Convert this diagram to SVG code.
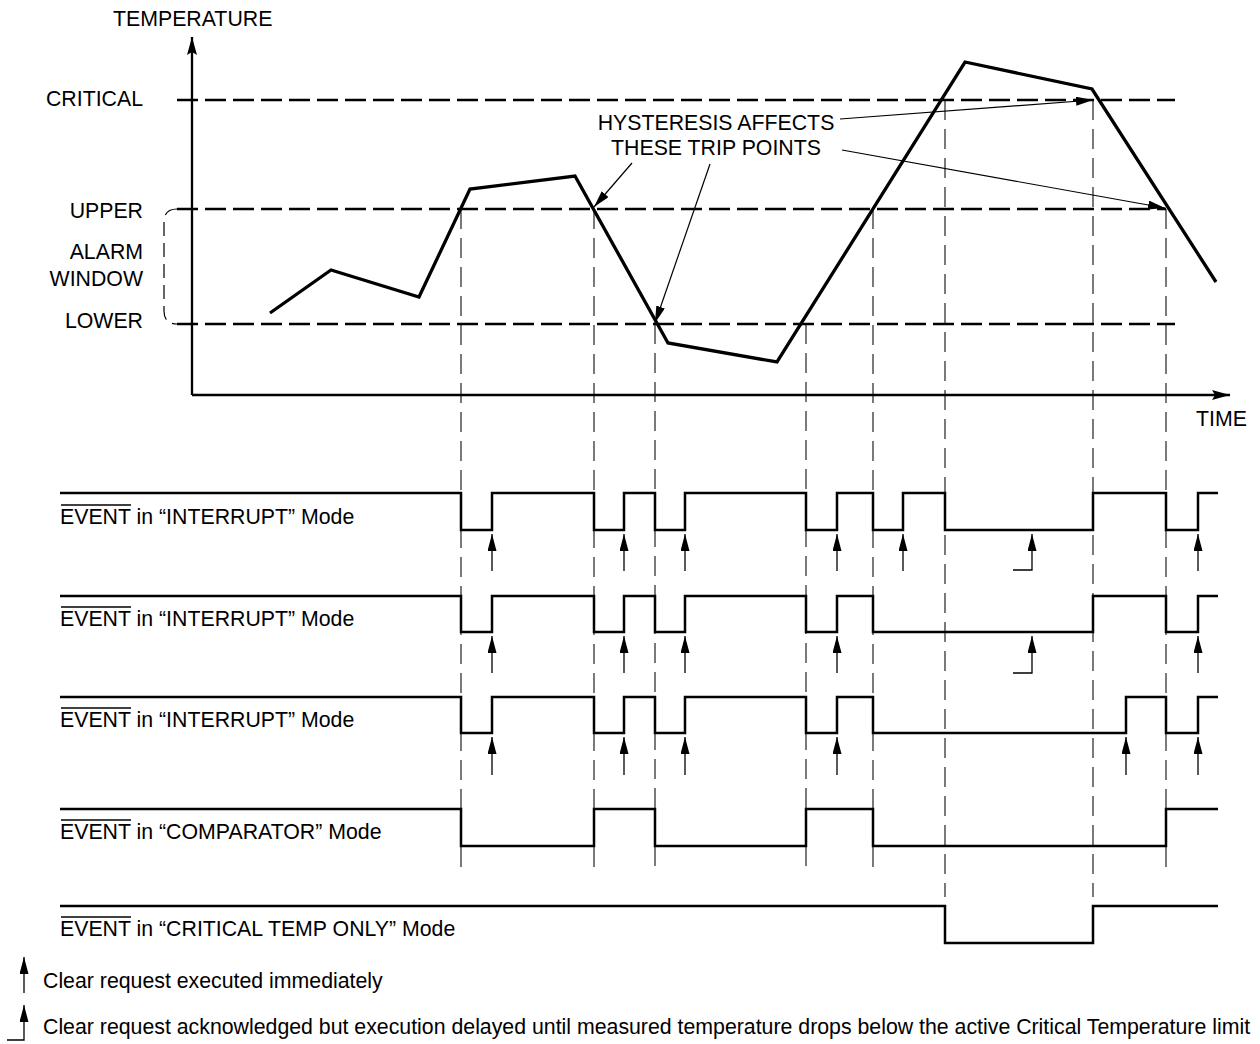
<svg xmlns="http://www.w3.org/2000/svg" width="1260" height="1044" viewBox="0 0 1260 1044">
<defs>
<style>
text{font-family:"Liberation Sans",Arial,sans-serif;font-size:21.3px;fill:#000}
.ax{stroke:#000;stroke-width:2.3;fill:none}
.thr{stroke:#000;stroke-width:2.4;fill:none;stroke-dasharray:21 7}
.vd{stroke:#222;stroke-width:1.2;fill:none;stroke-dasharray:20 9}
.br{stroke:#000;stroke-width:1.2;fill:none;stroke-dasharray:14 7}
.curve{stroke:#000;stroke-width:3.3;fill:none;stroke-linejoin:miter}
.wave{stroke:#000;stroke-width:2.5;fill:none}
.lead{stroke:#000;stroke-width:1.2;fill:none;marker-end:url(#ah)}
.clr{stroke:#000;stroke-width:1.3;fill:none;marker-end:url(#ah)}
.ol{stroke:#000;stroke-width:1.3}
</style>
<marker id="ah" markerUnits="userSpaceOnUse" viewBox="0 0 17 9" markerWidth="17" markerHeight="9" refX="17" refY="4.5" orient="auto">
<path d="M0,0 L17,4.5 L0,9 z" fill="#000"/>
</marker>
<marker id="axh" markerUnits="userSpaceOnUse" viewBox="0 0 18 10" markerWidth="18" markerHeight="10" refX="18" refY="5" orient="auto">
<path d="M0,0 L18,5 L0,10 L3,5 z" fill="#000"/>
</marker>
</defs>

<g id="verticals">
<path class="vd" d="M461,209 V868 M594,209 V868 M655,324 V868 M806,324 V868 M873,209 V868 M1166,209 V868 M945,100 V897 M1093,100 V897"/>
</g>

<g id="axes">
<path class="ax" d="M192,395 V37" marker-end="url(#axh)"/>
<path class="ax" d="M192,395 H1230" marker-end="url(#axh)"/>
<text x="113" y="26">TEMPERATURE</text>
<text x="1196" y="426">TIME</text>
</g>

<g id="thresholds">
<path class="thr" d="M177,100 H1175"/>
<path class="thr" d="M177,209 H1166"/>
<path class="thr" d="M177,324 H1175"/>
<path class="br" d="M177,209 Q164,209 164,222 V311 Q164,324 177,324"/>
<text x="143" y="106" text-anchor="end">CRITICAL</text>
<text x="143" y="218" text-anchor="end">UPPER</text>
<text x="143" y="259" text-anchor="end">ALARM</text>
<text x="143" y="286" text-anchor="end">WINDOW</text>
<text x="143" y="328" text-anchor="end">LOWER</text>
</g>

<g id="temperature-curve">
<polyline class="curve" points="270,313 331,270 419,297 470,189 575,176 668,343 777,362 965,62 1092,89 1216,282"/>
</g>

<g id="hysteresis-note">
<text x="716" y="130" text-anchor="middle">HYSTERESIS AFFECTS</text>
<text x="716" y="155" text-anchor="middle">THESE TRIP POINTS</text>
</g>

<g id="connectors">
<path class="lead" d="M632,163 L594,207"/>
<path class="lead" d="M710,164 L655,323"/>
<path class="lead" d="M840,119 L1093,100"/>
<path class="lead" d="M842,150 L1165,208"/>
</g>

<g id="row-interrupt-1">
<path class="wave" d="M60,493 H461 V530 H492 V493 H594 V530 H624 V493 H655 V530 H685 V493 H806 V530 H837 V493 H873 V530 H903 V493 H945 V530 H1093 V493 H1166 V530 H1198 V493 H1218"/>
<text x="60" y="524">EVENT in “INTERRUPT” Mode</text>
<line class="ol" x1="61" y1="505" x2="131" y2="505"/>
<path class="clr" d="M492,571 V534"/>
<path class="clr" d="M624,571 V534"/>
<path class="clr" d="M685,571 V534"/>
<path class="clr" d="M837,571 V534"/>
<path class="clr" d="M903,571 V534"/>
<path class="clr" d="M1198,571 V534"/>
<path class="clr" d="M1013,570 H1032 V534"/>
</g>

<g id="row-interrupt-2">
<path class="wave" d="M60,596 H461 V632 H492 V596 H594 V632 H624 V596 H655 V632 H685 V596 H806 V632 H837 V596 H873 V632 H1093 V596 H1166 V632 H1198 V596 H1218"/>
<text x="60" y="626">EVENT in “INTERRUPT” Mode</text>
<line class="ol" x1="61" y1="607" x2="131" y2="607"/>
<path class="clr" d="M492,673 V636"/>
<path class="clr" d="M624,673 V636"/>
<path class="clr" d="M685,673 V636"/>
<path class="clr" d="M837,673 V636"/>
<path class="clr" d="M1198,673 V636"/>
<path class="clr" d="M1013,673 H1032 V636"/>
</g>

<g id="row-interrupt-3">
<path class="wave" d="M60,697 H461 V733 H492 V697 H594 V733 H624 V697 H655 V733 H685 V697 H806 V733 H837 V697 H873 V733 H1126 V697 H1166 V733 H1198 V697 H1218"/>
<text x="60" y="727">EVENT in “INTERRUPT” Mode</text>
<line class="ol" x1="61" y1="708" x2="131" y2="708"/>
<path class="clr" d="M492,775 V737"/>
<path class="clr" d="M624,775 V737"/>
<path class="clr" d="M685,775 V737"/>
<path class="clr" d="M837,775 V737"/>
<path class="clr" d="M1126,775 V737"/>
<path class="clr" d="M1198,775 V737"/>
</g>

<g id="row-comparator">
<path class="wave" d="M60,809 H461 V846 H594 V809 H655 V846 H806 V809 H873 V846 H1166 V809 H1218"/>
<text x="60" y="839">EVENT in “COMPARATOR” Mode</text>
<line class="ol" x1="61" y1="820" x2="131" y2="820"/>
</g>

<g id="row-critical">
<path class="wave" d="M60,906 H945 V943 H1093 V906 H1218"/>
<text x="60" y="936">EVENT in “CRITICAL TEMP ONLY” Mode</text>
<line class="ol" x1="61" y1="917" x2="131" y2="917"/>
</g>

<g id="legend">
<path class="clr" d="M24,993 V957"/>
<text x="43" y="988">Clear request executed immediately</text>
<path class="clr" d="M7,1040 H24 V1005"/>
<text x="43" y="1034">Clear request acknowledged but execution delayed until measured temperature drops below the active Critical Temperature limit</text>
</g>
</svg>
